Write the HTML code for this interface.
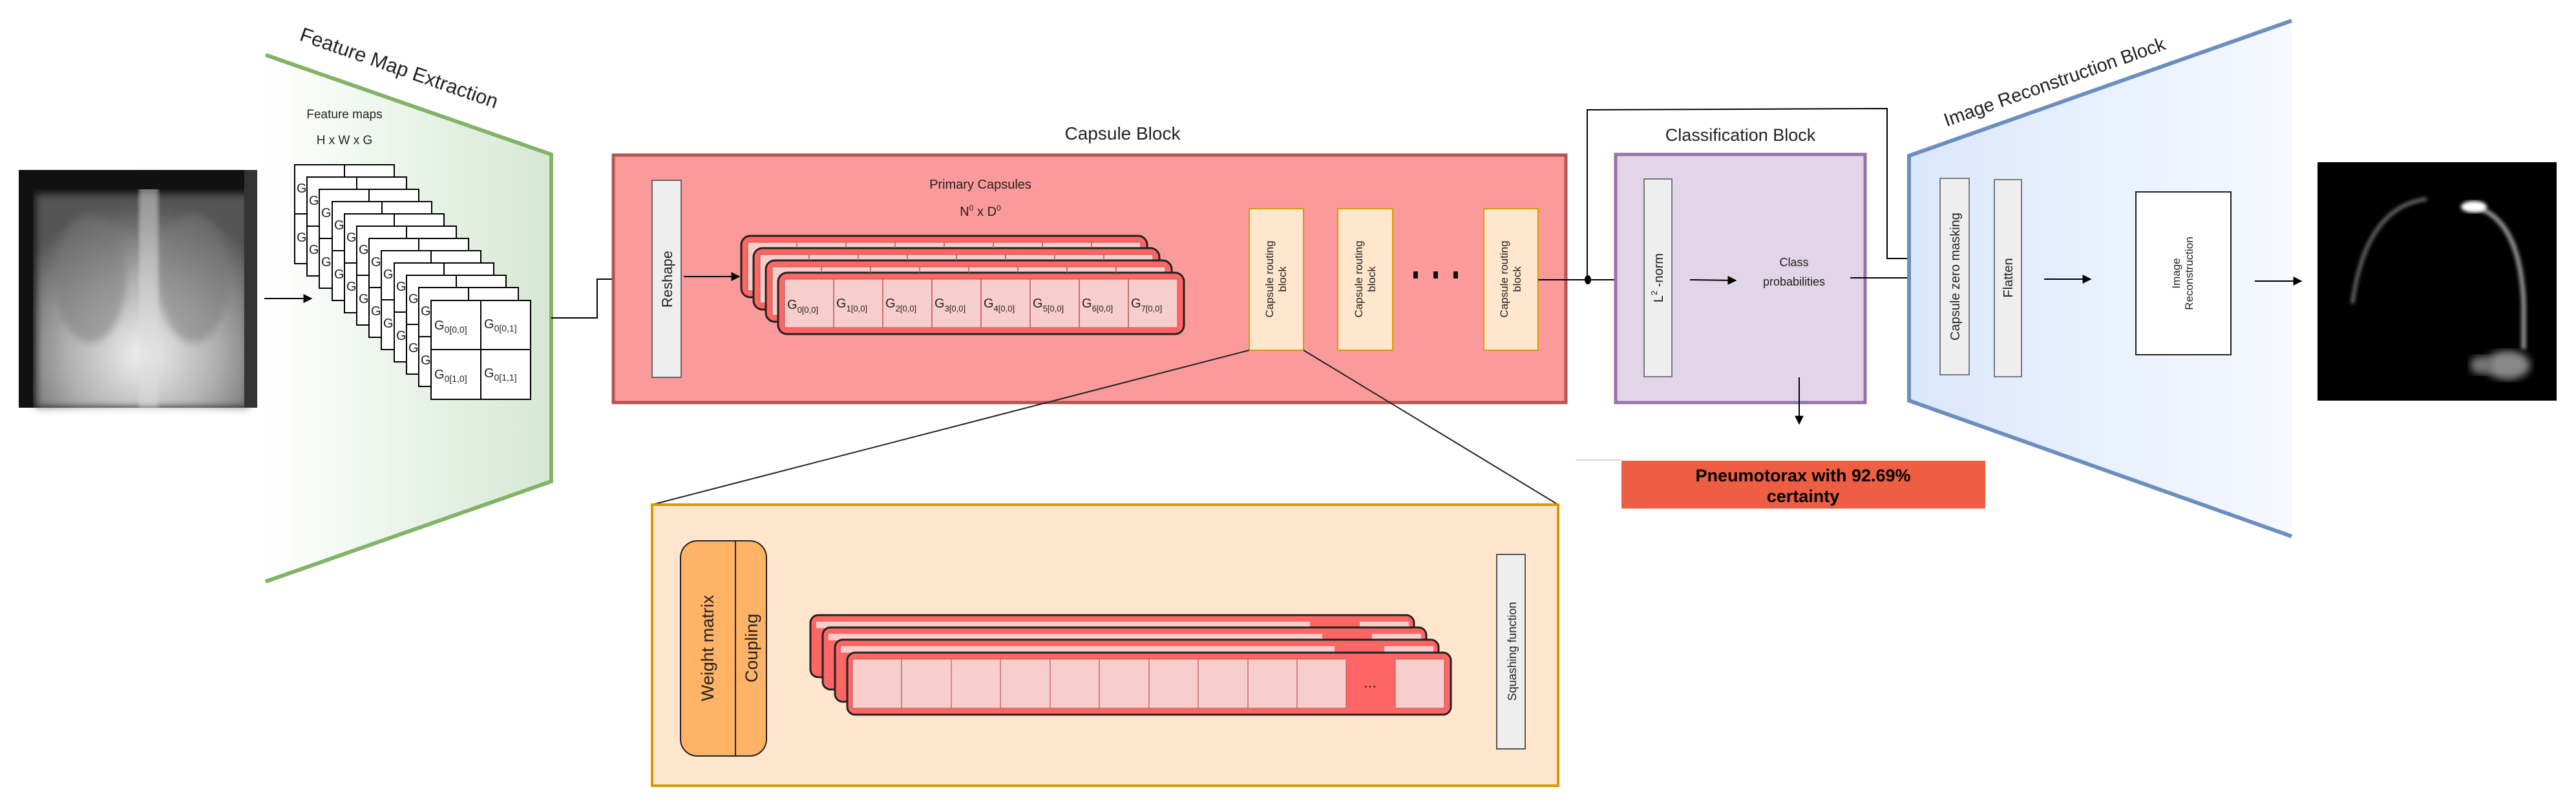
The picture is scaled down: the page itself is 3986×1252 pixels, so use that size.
<!DOCTYPE html>
<html><head><meta charset="utf-8"><style>
html,body{margin:0;padding:0;background:#fff}
svg{display:block}
text{font-family:"Liberation Sans",sans-serif;fill:#222}
</style></head><body>
<svg width="3986" height="1252" viewBox="0 0 3986 1252" xmlns="http://www.w3.org/2000/svg">
<defs>
<linearGradient id="gG" x1="0" x2="1" y1="0" y2="0"><stop offset="0" stop-color="#ffffff"/><stop offset="1" stop-color="#d5e8d4"/></linearGradient>
<linearGradient id="gB" x1="0" x2="1" y1="0" y2="0"><stop offset="0" stop-color="#dae8fc"/><stop offset="1" stop-color="#f6f9fe"/></linearGradient>
<radialGradient id="xr" cx="0.5" cy="0.75" r="0.7"><stop offset="0" stop-color="#f0f0f0"/><stop offset="0.5" stop-color="#b0b0b0"/><stop offset="1" stop-color="#555"/></radialGradient>
<filter id="bl"><feGaussianBlur stdDeviation="6"/></filter>
<filter id="bl2"><feGaussianBlur stdDeviation="3"/></filter>
<marker id="ar" viewBox="0 0 10 10" refX="9" refY="5" markerWidth="7" markerHeight="7" orient="auto"><path d="M0,0 L10,5 L0,10 z" fill="#000"/></marker>
</defs>

<!-- X-ray -->
<rect x="29" y="263" width="369" height="368" fill="#111"/>
<rect x="55" y="300" width="330" height="331" fill="url(#xr)" filter="url(#bl)"/>
<ellipse cx="140" cy="430" rx="55" ry="100" fill="#777" opacity="0.5" filter="url(#bl)"/>
<ellipse cx="300" cy="430" rx="55" ry="100" fill="#777" opacity="0.5" filter="url(#bl)"/>
<rect x="215" y="263" width="30" height="368" fill="#ddd" opacity="0.5" filter="url(#bl2)"/>
<rect x="29" y="263" width="369" height="30" fill="#111"/>
<rect x="29" y="263" width="22" height="368" fill="#111"/>
<rect x="378" y="263" width="20" height="368" fill="#333"/>

<!-- Green trapezoid -->
<polygon points="411,85 853,239 853,745 411,900" fill="url(#gG)"/>
<polyline points="411,85 853,239 853,745 411,900" fill="none" stroke="#82b366" stroke-width="6"/>
<text x="462" y="62" font-size="31" transform="rotate(19.2 462 62)">Feature Map Extraction</text>
<text x="533" y="183" font-size="19" text-anchor="middle">Feature maps</text>
<text x="533" y="223" font-size="19" text-anchor="middle">H x W x G</text>

<line x1="409" y1="462" x2="482" y2="462" stroke="#000" stroke-width="2" marker-end="url(#ar)"/>

<g stroke="#000" stroke-width="2" fill="#fff">
<g transform="translate(456,255)"><rect width="154" height="153"/><line x1="77" y1="0" x2="77" y2="153"/><line x1="0" y1="76" x2="154" y2="76"/></g>
<g transform="translate(475,274)"><rect width="154" height="153"/><line x1="77" y1="0" x2="77" y2="153"/><line x1="0" y1="76" x2="154" y2="76"/></g>
<g transform="translate(494,293)"><rect width="154" height="153"/><line x1="77" y1="0" x2="77" y2="153"/><line x1="0" y1="76" x2="154" y2="76"/></g>
<g transform="translate(514,312)"><rect width="154" height="153"/><line x1="77" y1="0" x2="77" y2="153"/><line x1="0" y1="76" x2="154" y2="76"/></g>
<g transform="translate(533,331)"><rect width="154" height="153"/><line x1="77" y1="0" x2="77" y2="153"/><line x1="0" y1="76" x2="154" y2="76"/></g>
<g transform="translate(552,350)"><rect width="154" height="153"/><line x1="77" y1="0" x2="77" y2="153"/><line x1="0" y1="76" x2="154" y2="76"/></g>
<g transform="translate(571,369)"><rect width="154" height="153"/><line x1="77" y1="0" x2="77" y2="153"/><line x1="0" y1="76" x2="154" y2="76"/></g>
<g transform="translate(590,388)"><rect width="154" height="153"/><line x1="77" y1="0" x2="77" y2="153"/><line x1="0" y1="76" x2="154" y2="76"/></g>
<g transform="translate(610,407)"><rect width="154" height="153"/><line x1="77" y1="0" x2="77" y2="153"/><line x1="0" y1="76" x2="154" y2="76"/></g>
<g transform="translate(629,426)"><rect width="154" height="153"/><line x1="77" y1="0" x2="77" y2="153"/><line x1="0" y1="76" x2="154" y2="76"/></g>
<g transform="translate(648,445)"><rect width="154" height="153"/><line x1="77" y1="0" x2="77" y2="153"/><line x1="0" y1="76" x2="154" y2="76"/></g>
<g transform="translate(667,465)"><rect width="154" height="153"/><line x1="77" y1="0" x2="77" y2="153"/><line x1="0" y1="76" x2="154" y2="76"/></g>
</g>
<g font-size="20">
<text x="459" y="298">G</text><text x="459" y="374">G</text>
<text x="478" y="317">G</text><text x="478" y="393">G</text>
<text x="497" y="336">G</text><text x="497" y="412">G</text>
<text x="517" y="355">G</text><text x="517" y="431">G</text>
<text x="536" y="374">G</text><text x="536" y="450">G</text>
<text x="555" y="393">G</text><text x="555" y="469">G</text>
<text x="574" y="412">G</text><text x="574" y="488">G</text>
<text x="593" y="431">G</text><text x="593" y="507">G</text>
<text x="613" y="450">G</text><text x="613" y="526">G</text>
<text x="632" y="469">G</text><text x="632" y="545">G</text>
<text x="651" y="488">G</text><text x="651" y="564">G</text>
<text x="672" y="510">G<tspan font-size="14" dy="5">0[0,0]</tspan></text>
<text x="749" y="508">G<tspan font-size="14" dy="5">0[0,1]</tspan></text>
<text x="672" y="586">G<tspan font-size="14" dy="5">0[1,0]</tspan></text>
<text x="749" y="584">G<tspan font-size="14" dy="5">0[1,1]</tspan></text>
</g>

<polyline points="853,492 924,492 924,432 985,432" fill="none" stroke="#000" stroke-width="2" marker-end="url(#ar)"/>

<!-- Capsule block -->
<text x="1737" y="216" font-size="28" text-anchor="middle">Capsule Block</text>
<rect x="949" y="240" width="1474" height="383" fill="#fa9a9a" stroke="#b85450" stroke-width="5"/>
<rect x="1009" y="279" width="45" height="305" fill="#eeeeee" stroke="#666" stroke-width="2"/>
<text transform="translate(1040 432) rotate(-90)" font-size="22" text-anchor="middle">Reshape</text>
<line x1="1058" y1="428" x2="1144" y2="428" stroke="#000" stroke-width="2" marker-end="url(#ar)"/>
<text x="1517" y="292" font-size="20" text-anchor="middle">Primary Capsules</text>
<text x="1517" y="334" font-size="20" text-anchor="middle">N<tspan font-size="12" dy="-8">0</tspan><tspan dy="8"> x D</tspan><tspan font-size="12" dy="-8">0</tspan></text>

<g>
<g transform="translate(1147,365)"><rect width="628" height="95" rx="14" fill="#ff6666" stroke="#222" stroke-width="3"/><rect x="10" y="10" width="608" height="75" fill="#f8cecc" stroke="#b85450" stroke-width="1"/></g>
<g transform="translate(1166,384)"><rect width="628" height="95" rx="14" fill="#ff6666" stroke="#222" stroke-width="3"/><rect x="10" y="10" width="608" height="75" fill="#f8cecc" stroke="#b85450" stroke-width="1"/></g>
<g transform="translate(1185,403)"><rect width="628" height="95" rx="14" fill="#ff6666" stroke="#222" stroke-width="3"/><rect x="10" y="10" width="608" height="75" fill="#f8cecc" stroke="#b85450" stroke-width="1"/></g>
<g transform="translate(1204,422)"><rect width="628" height="95" rx="14" fill="#ff6666" stroke="#222" stroke-width="3"/><rect x="10" y="10" width="608" height="75" fill="#f8cecc" stroke="#b85450" stroke-width="1"/></g>
</g>
<g stroke="#b85450" stroke-width="1.5">
<line x1="1233" y1="375" x2="1233" y2="384"/><line x1="1309" y1="375" x2="1309" y2="384"/><line x1="1385" y1="375" x2="1385" y2="384"/><line x1="1461" y1="375" x2="1461" y2="384"/><line x1="1537" y1="375" x2="1537" y2="384"/><line x1="1613" y1="375" x2="1613" y2="384"/><line x1="1689" y1="375" x2="1689" y2="384"/>
<line x1="1252" y1="394" x2="1252" y2="403"/><line x1="1328" y1="394" x2="1328" y2="403"/><line x1="1404" y1="394" x2="1404" y2="403"/><line x1="1480" y1="394" x2="1480" y2="403"/><line x1="1556" y1="394" x2="1556" y2="403"/><line x1="1632" y1="394" x2="1632" y2="403"/><line x1="1708" y1="394" x2="1708" y2="403"/>
<line x1="1271" y1="413" x2="1271" y2="422"/><line x1="1347" y1="413" x2="1347" y2="422"/><line x1="1423" y1="413" x2="1423" y2="422"/><line x1="1499" y1="413" x2="1499" y2="422"/><line x1="1575" y1="413" x2="1575" y2="422"/><line x1="1651" y1="413" x2="1651" y2="422"/><line x1="1727" y1="413" x2="1727" y2="422"/>
<line x1="1290" y1="432" x2="1290" y2="507"/><line x1="1366" y1="432" x2="1366" y2="507"/><line x1="1442" y1="432" x2="1442" y2="507"/><line x1="1518" y1="432" x2="1518" y2="507"/><line x1="1594" y1="432" x2="1594" y2="507"/><line x1="1670" y1="432" x2="1670" y2="507"/><line x1="1746" y1="432" x2="1746" y2="507"/>
</g>
<g font-size="20">
<text x="1218" y="478">G<tspan font-size="13" dy="6">0[0,0]</tspan></text>
<text x="1294" y="476">G<tspan font-size="13" dy="6">1[0,0]</tspan></text>
<text x="1370" y="476">G<tspan font-size="13" dy="6">2[0,0]</tspan></text>
<text x="1446" y="476">G<tspan font-size="13" dy="6">3[0,0]</tspan></text>
<text x="1522" y="476">G<tspan font-size="13" dy="6">4[0,0]</tspan></text>
<text x="1598" y="476">G<tspan font-size="13" dy="6">5[0,0]</tspan></text>
<text x="1674" y="476">G<tspan font-size="13" dy="6">6[0,0]</tspan></text>
<text x="1750" y="476">G<tspan font-size="13" dy="6">7[0,0]</tspan></text>
</g>

<g fill="#ffe6cc" stroke="#d79b00" stroke-width="2">
<rect x="1933" y="323" width="84" height="219"/>
<rect x="2070" y="323" width="85" height="219"/>
<rect x="2296" y="323" width="84" height="219"/>
</g>
<g font-size="17">
<text transform="translate(1970 432) rotate(-90)" text-anchor="middle">Capsule routing</text>
<text transform="translate(1990 432) rotate(-90)" text-anchor="middle">block</text>
<text transform="translate(2108 432) rotate(-90)" text-anchor="middle">Capsule routing</text>
<text transform="translate(2128 432) rotate(-90)" text-anchor="middle">block</text>
<text transform="translate(2333 432) rotate(-90)" text-anchor="middle">Capsule routing</text>
<text transform="translate(2353 432) rotate(-90)" text-anchor="middle">block</text>
</g>
<g fill="#111"><rect x="2187" y="420" width="7" height="11"/><rect x="2218" y="420" width="7" height="11"/><rect x="2249" y="420" width="7" height="11"/></g>

<line x1="1933" y1="542" x2="1009" y2="781" stroke="#222" stroke-width="2"/>
<line x1="2017" y1="542" x2="2411" y2="781" stroke="#222" stroke-width="2"/>

<line x1="2380" y1="433" x2="2539" y2="433" stroke="#000" stroke-width="2" marker-end="url(#ar)"/>
<ellipse cx="2457" cy="433" rx="5" ry="7" fill="#000"/>
<polyline points="2456,433 2456,170 2920,168 2920,400 2974,400" fill="none" stroke="#000" stroke-width="2" marker-end="url(#ar)"/>

<text x="2693" y="218" font-size="27" text-anchor="middle">Classification Block</text>
<rect x="2500" y="239" width="386" height="384" fill="#e1d5e7" stroke="#9673a6" stroke-width="5"/>
<rect x="2544" y="277" width="43" height="306" fill="#eeeeee" stroke="#555" stroke-width="1.5"/>
<text transform="translate(2573 430) rotate(-90)" font-size="20" text-anchor="middle">L<tspan font-size="13" dy="-9">2</tspan><tspan dy="9"> -norm</tspan></text>
<line x1="2615" y1="433" x2="2686" y2="434" stroke="#000" stroke-width="2" marker-end="url(#ar)"/>
<text x="2776" y="412" font-size="18" text-anchor="middle">Class</text>
<text x="2776" y="442" font-size="18" text-anchor="middle">probabilities</text>
<line x1="2863" y1="430" x2="2974" y2="430" stroke="#000" stroke-width="2" marker-end="url(#ar)"/>
<line x1="2784" y1="584" x2="2784" y2="656" stroke="#000" stroke-width="2" marker-end="url(#ar)"/>

<line x1="2438" y1="712" x2="2509" y2="712" stroke="#ccc" stroke-width="1.5"/>
<rect x="2509" y="713" width="563" height="74" fill="#ed5e42"/>
<text x="2790" y="745" font-size="27" font-weight="bold" text-anchor="middle" style="fill:#000">Pneumotorax with 92.69%</text>
<text x="2790" y="777" font-size="27" font-weight="bold" text-anchor="middle" style="fill:#000">certainty</text>

<polygon points="2954,241 3546,32 3546,830 2954,620" fill="url(#gB)"/>
<polyline points="3546,32 2954,241 2954,620 3546,830" fill="none" stroke="#6c8ebf" stroke-width="6"/>
<text x="3012" y="196" font-size="29" transform="rotate(-19.4 3012 196)">Image Reconstruction Block</text>
<rect x="3002" y="276" width="45" height="304" fill="#eeeeee" stroke="#555" stroke-width="1.5"/>
<text transform="translate(3032 428) rotate(-90)" font-size="20" text-anchor="middle">Capsule zero masking</text>
<rect x="3086" y="278" width="42" height="305" fill="#eeeeee" stroke="#555" stroke-width="1.5"/>
<text transform="translate(3114 430) rotate(-90)" font-size="20" text-anchor="middle">Flatten</text>
<line x1="3163" y1="432" x2="3235" y2="432" stroke="#000" stroke-width="2" marker-end="url(#ar)"/>
<rect x="3305" y="297" width="147" height="252" fill="#fff" stroke="#222" stroke-width="2"/>
<text transform="translate(3373 423) rotate(-90)" font-size="17" text-anchor="middle">Image</text>
<text transform="translate(3393 423) rotate(-90)" font-size="17" text-anchor="middle">Reconstruction</text>
<line x1="3489" y1="435" x2="3561" y2="435" stroke="#000" stroke-width="2" marker-end="url(#ar)"/>

<rect x="3586" y="251" width="370" height="369" fill="#000"/>
<path d="M3755,308 Q3660,320 3640,470" fill="none" stroke="#777" stroke-width="5" filter="url(#bl2)"/>
<path d="M3830,320 Q3900,340 3905,470 L3905,540" fill="none" stroke="#999" stroke-width="7" filter="url(#bl2)"/>
<ellipse cx="3828" cy="320" rx="20" ry="9" fill="#fff" filter="url(#bl2)"/>
<ellipse cx="3880" cy="565" rx="35" ry="22" fill="#888" filter="url(#bl)"/>
<ellipse cx="3840" cy="565" rx="18" ry="14" fill="#777" filter="url(#bl)"/>

<rect x="1009" y="781" width="1402" height="435" fill="#ffe6cc" stroke="#d79b00" stroke-width="4"/>
<rect x="1053" y="837" width="133" height="333" rx="26" fill="#ffb366" stroke="#222" stroke-width="2"/>
<line x1="1138" y1="837" x2="1138" y2="1170" stroke="#222" stroke-width="2"/>
<text transform="translate(1104 1003) rotate(-90)" font-size="27" text-anchor="middle">Weight matrix</text>
<text transform="translate(1172 1003) rotate(-90)" font-size="27" text-anchor="middle">Coupling</text>
<rect x="2316" y="858" width="44" height="301" fill="#eeeeee" stroke="#555" stroke-width="2"/>
<text transform="translate(2346 1008) rotate(-90)" font-size="18" text-anchor="middle">Squashing function</text>

<g>
<g transform="translate(1254,952)"><rect width="934" height="96" rx="12" fill="#ff6666" stroke="#222" stroke-width="3"/><rect x="9" y="10" width="764" height="10" fill="#f8cecc"/><rect x="850" y="10" width="76" height="10" fill="#f8cecc"/></g>
<g transform="translate(1273,971)"><rect width="934" height="96" rx="12" fill="#ff6666" stroke="#222" stroke-width="3"/><rect x="9" y="10" width="764" height="10" fill="#f8cecc"/><rect x="850" y="10" width="76" height="10" fill="#f8cecc"/></g>
<g transform="translate(1292,990)"><rect width="934" height="96" rx="12" fill="#ff6666" stroke="#222" stroke-width="3"/><rect x="9" y="10" width="764" height="10" fill="#f8cecc"/><rect x="850" y="10" width="76" height="10" fill="#f8cecc"/></g>
<g transform="translate(1311,1010)"><rect width="934" height="96" rx="12" fill="#ff6666" stroke="#222" stroke-width="3"/><rect x="8" y="10" width="764" height="76" fill="#f8cecc" stroke="#b85450" stroke-width="1"/><rect x="848" y="10" width="76" height="76" fill="#f8cecc" stroke="#b85450" stroke-width="1"/></g>
</g>
<g stroke="#b85450" stroke-width="1.2">
<line x1="1395" y1="1020" x2="1395" y2="1096"/><line x1="1472" y1="1020" x2="1472" y2="1096"/><line x1="1548" y1="1020" x2="1548" y2="1096"/><line x1="1625" y1="1020" x2="1625" y2="1096"/><line x1="1701" y1="1020" x2="1701" y2="1096"/><line x1="1778" y1="1020" x2="1778" y2="1096"/><line x1="1854" y1="1020" x2="1854" y2="1096"/><line x1="1931" y1="1020" x2="1931" y2="1096"/><line x1="2007" y1="1020" x2="2007" y2="1096"/>
</g>
<text x="2120" y="1064" font-size="24" text-anchor="middle">...</text>
</svg>
</body></html>
